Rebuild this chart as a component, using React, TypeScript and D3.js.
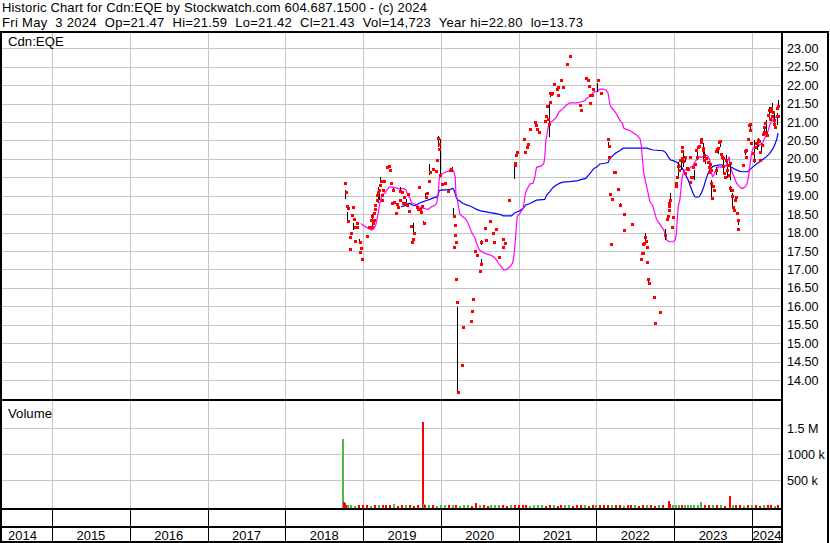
import React from 'react';
import * as d3 from 'd3';

// ---------- text ----------
const header1 = 'Historic Chart for Cdn:EQE by Stockwatch.com 604.687.1500 - (c) 2024';
const header2 = 'Fri May  3 2024  Op=21.47  Hi=21.59  Lo=21.42  Cl=21.43  Vol=14,723  Year hi=22.80  lo=13.73';
const symbolLabel = 'Cdn:EQE';
const volumeLabel = 'Volume';

// ---------- axes ----------
const years = [2014, 2015, 2016, 2017, 2018, 2019, 2020, 2021, 2022, 2023, 2024];
const priceTicks = [14, 14.5, 15, 15.5, 16, 16.5, 17, 17.5, 18, 18.5, 19, 19.5, 20, 20.5, 21, 21.5, 22, 22.5, 23];
const volTicks = [500000, 1000000, 1500000];
const volTickLabels = ['500 k', '1000 k', '1.5 M'];

// ---------- data (t = decimal year) ----------
// daily closes [t, price]
const closes: [number, number][] = [
  [2018.766, 19.35], [2018.779, 19.11], [2018.787, 18.72], [2018.8, 18.67], [2018.809, 18.3],
  [2018.826, 17.56], [2018.83, 17.87], [2018.843, 18.0], [2018.856, 18.48], [2018.864, 18.7],
  [2018.882, 18.36], [2018.89, 17.78], [2018.894, 18.16], [2018.916, 18.26], [2018.924, 18.16],
  [2018.959, 17.73], [2018.963, 17.48], [2018.967, 17.57], [2018.989, 17.29], [2019.044, 17.91],
  [2019.074, 18.16], [2019.096, 18.34], [2019.109, 18.45], [2019.117, 18.16], [2019.121, 18.25],
  [2019.134, 18.34], [2019.139, 18.52], [2019.147, 18.63], [2019.156, 18.74], [2019.173, 18.88],
  [2019.177, 19.02], [2019.186, 19.11], [2019.199, 19.15], [2019.216, 19.29], [2019.224, 19.4],
  [2019.237, 19.02], [2019.246, 18.88], [2019.259, 19.15], [2019.271, 19.41], [2019.31, 19.79],
  [2019.327, 19.81], [2019.34, 19.7], [2019.353, 19.34], [2019.366, 18.79], [2019.383, 19.15],
  [2019.396, 18.84], [2019.421, 18.52], [2019.43, 18.77], [2019.447, 18.7], [2019.468, 18.88],
  [2019.477, 19.14], [2019.494, 19.09], [2019.507, 18.81], [2019.524, 18.96], [2019.541, 18.79],
  [2019.558, 18.74], [2019.571, 19.05], [2019.584, 18.59], [2019.61, 18.19], [2019.627, 17.75],
  [2019.64, 17.82], [2019.657, 18.0], [2019.687, 18.7], [2019.7, 18.65], [2019.713, 19.24],
  [2019.73, 18.65], [2019.743, 18.57], [2019.756, 18.73], [2019.781, 18.25], [2019.807, 18.97],
  [2019.824, 19.08], [2019.846, 19.41], [2019.854, 19.63], [2019.893, 19.73], [2019.935, 19.68],
  [2019.944, 19.97], [2019.961, 20.57], [2019.97, 20.39], [2019.978, 20.26], [2019.995, 19.56],
  [2020.017, 19.32], [2020.051, 19.35], [2020.085, 19.14], [2020.111, 19.7], [2020.133, 19.72],
  [2020.167, 18.45], [2020.17, 17.62], [2020.18, 18.21], [2020.184, 17.93], [2020.188, 16.74],
  [2020.193, 17.75], [2020.205, 16.12], [2020.214, 13.68], [2020.27, 14.41], [2020.283, 15.45],
  [2020.381, 15.61], [2020.398, 15.88], [2020.411, 16.19], [2020.445, 17.51], [2020.463, 17.38],
  [2020.501, 16.97], [2020.51, 17.15], [2020.522, 17.73], [2020.561, 18.13], [2020.574, 17.8],
  [2020.63, 18.31], [2020.668, 17.99], [2020.681, 17.75], [2020.715, 18.1], [2020.75, 17.35],
  [2020.797, 17.62], [2020.801, 17.83], [2020.818, 17.71], [2020.874, 18.88], [2020.951, 19.83],
  [2020.959, 19.9], [2020.972, 20.1], [2020.985, 20.19], [2021.066, 20.55], [2021.075, 20.19],
  [2021.101, 20.33], [2021.114, 20.4], [2021.144, 20.82], [2021.204, 21.01], [2021.221, 20.92],
  [2021.238, 20.8], [2021.255, 20.73], [2021.336, 21.04], [2021.349, 21.16], [2021.362, 21.43],
  [2021.371, 21.07], [2021.384, 20.94], [2021.401, 21.55], [2021.409, 21.8], [2021.422, 21.76],
  [2021.435, 21.8], [2021.448, 22.02], [2021.495, 21.9], [2021.508, 21.73], [2021.512, 21.96],
  [2021.538, 22.14], [2021.564, 21.96], [2021.619, 22.57], [2021.658, 22.8], [2021.786, 21.46],
  [2021.795, 21.33], [2021.872, 22.19], [2021.889, 22.14], [2021.898, 21.98], [2021.915, 21.73],
  [2021.923, 21.52], [2021.949, 21.73], [2021.962, 21.89], [2022.026, 22.14], [2022.056, 21.8],
  [2022.155, 20.54], [2022.16, 20.35], [2022.163, 20.06], [2022.18, 19.05], [2022.185, 17.69],
  [2022.198, 18.91], [2022.223, 19.64], [2022.245, 19.64], [2022.283, 19.19], [2022.309, 18.76],
  [2022.352, 18.5], [2022.356, 18.07], [2022.455, 18.24], [2022.57, 17.28], [2022.587, 17.45],
  [2022.6, 17.69], [2022.604, 17.45], [2022.617, 17.71], [2022.63, 17.89], [2022.634, 17.78],
  [2022.647, 17.62], [2022.65, 17.21], [2022.664, 16.74], [2022.673, 16.64], [2022.734, 16.26],
  [2022.759, 15.55], [2022.815, 15.85], [2022.879, 17.93], [2022.901, 18.36], [2022.926, 18.45],
  [2022.93, 18.72], [2022.935, 18.81], [2022.939, 18.61], [2022.952, 18.88], [2022.969, 18.16],
  [2022.978, 18.43], [2023.021, 19.25], [2023.029, 19.35], [2023.038, 19.5], [2023.046, 19.81],
  [2023.055, 19.7], [2023.072, 19.97], [2023.094, 20.31], [2023.098, 20.22], [2023.106, 20.01],
  [2023.119, 19.95], [2023.136, 20.06], [2023.145, 19.61], [2023.158, 19.76], [2023.179, 19.72],
  [2023.201, 20.06], [2023.209, 19.38], [2023.222, 19.52], [2023.235, 19.52], [2023.243, 19.79],
  [2023.265, 19.86], [2023.286, 20.24], [2023.295, 20.06], [2023.308, 20.33], [2023.321, 20.35],
  [2023.338, 20.53], [2023.346, 20.46], [2023.364, 20.24], [2023.372, 20.29], [2023.385, 20.1],
  [2023.389, 19.97], [2023.415, 20.01], [2023.436, 19.92], [2023.449, 19.79], [2023.453, 19.63],
  [2023.458, 19.86], [2023.471, 19.7], [2023.479, 19.35], [2023.484, 18.93], [2023.501, 19.25],
  [2023.509, 19.15], [2023.535, 19.7], [2023.543, 20.22], [2023.552, 20.26], [2023.569, 20.29],
  [2023.578, 20.47], [2023.586, 20.49], [2023.603, 20.13], [2023.612, 20.06], [2023.621, 20.01],
  [2023.629, 19.81], [2023.646, 19.61], [2023.655, 19.52], [2023.663, 19.97], [2023.681, 19.7],
  [2023.693, 19.83], [2023.706, 19.56], [2023.715, 19.9], [2023.723, 19.2], [2023.741, 19.15],
  [2023.749, 18.99], [2023.758, 18.7], [2023.771, 18.61], [2023.779, 18.88], [2023.788, 18.96],
  [2023.801, 18.52], [2023.818, 18.34], [2023.826, 18.1], [2023.878, 19.83], [2023.912, 20.22],
  [2023.92, 20.06], [2023.929, 20.24], [2023.955, 20.55], [2023.963, 20.91], [2023.972, 20.78],
  [2023.98, 20.95], [2023.985, 20.42], [2024.015, 20.15], [2024.023, 19.97], [2024.04, 20.31],
  [2024.049, 20.44], [2024.066, 20.42], [2024.079, 20.51], [2024.092, 20.48], [2024.1, 20.19],
  [2024.109, 19.97], [2024.126, 20.38], [2024.143, 20.67], [2024.152, 20.74], [2024.16, 20.87],
  [2024.169, 20.96], [2024.186, 20.69], [2024.195, 20.65], [2024.208, 21.19], [2024.216, 21.33],
  [2024.229, 21.07], [2024.242, 21.31], [2024.25, 21.37], [2024.263, 21.15], [2024.272, 21.26],
  [2024.28, 21.05], [2024.289, 20.94], [2024.297, 20.87], [2024.315, 21.16], [2024.323, 21.37],
  [2024.33, 21.15], [2024.336, 21.43],
];

// intraday ranges [t, high, low]
const ranges: [number, number, number][] = [
  [2018.77, 19.15, 18.9], [2018.787, 18.57, 18.3], [2018.873, 18.27, 18.07], [2018.95, 17.82, 17.69],
  [2019.109, 18.5, 18.16], [2019.186, 19.24, 18.79], [2019.199, 19.08, 18.88], [2019.216, 19.52, 19.35],
  [2019.379, 19.2, 19.11], [2019.473, 19.23, 19.11], [2019.55, 18.92, 18.74], [2019.644, 18.27, 17.98],
  [2019.773, 18.3, 18.21], [2019.799, 19.06, 18.93], [2019.846, 19.86, 19.56], [2019.957, 20.62, 20.31],
  [2019.987, 20.53, 19.56], [2020.141, 19.77, 19.63], [2020.158, 18.67, 18.45], [2020.201, 15.99, 13.68],
  [2020.203, 15.99, 14.6], [2020.51, 17.27, 17.13], [2020.522, 17.8, 17.66], [2020.942, 19.9, 19.45],
  [2021.392, 21.55, 20.6], [2021.409, 21.82, 21.67], [2021.444, 22.05, 21.98], [2022.009, 22.05, 21.82],
  [2022.15, 20.47, 20.33], [2022.236, 19.67, 19.61], [2022.309, 18.79, 18.72], [2022.626, 17.99, 17.66],
  [2022.669, 16.78, 16.62], [2022.884, 18.09, 17.8], [2022.952, 19.06, 18.88], [2023.051, 19.92, 19.52],
  [2023.081, 20.06, 19.7], [2023.115, 20.15, 19.79], [2023.136, 20.06, 19.92], [2023.252, 19.7, 19.43],
  [2023.295, 20.22, 19.97], [2023.364, 20.42, 19.97], [2023.381, 20.33, 20.01], [2023.398, 19.97, 19.86],
  [2023.475, 19.43, 18.88], [2023.535, 19.79, 19.56], [2023.569, 20.26, 20.13], [2023.586, 20.48, 20.31],
  [2023.629, 19.97, 19.61], [2023.663, 20.1, 19.88], [2023.681, 19.88, 19.47], [2023.715, 19.88, 19.43],
  [2023.723, 19.25, 19.11], [2023.741, 19.06, 18.66], [2023.826, 18.36, 18.21], [2023.912, 20.28, 20.1],
  [2023.972, 20.95, 20.74], [2024.032, 20.51, 19.88], [2024.058, 20.47, 20.24], [2024.083, 20.56, 20.31],
  [2024.118, 20.42, 20.13], [2024.152, 20.89, 20.65], [2024.186, 21.05, 20.67], [2024.22, 21.42, 21.07],
  [2024.255, 21.52, 21.24], [2024.289, 21.28, 20.87], [2024.315, 21.24, 20.92], [2024.332, 21.6, 21.37],
];

// short moving average (magenta) [t, value]
const maShort: [number, number][] = [
  [2018.971, 18.25], [2019.001, 18.19], [2019.044, 18.14], [2019.109, 18.07], [2019.139, 18.11],
  [2019.164, 18.21], [2019.181, 18.39], [2019.194, 18.52], [2019.207, 18.7], [2019.224, 18.88],
  [2019.25, 19.05], [2019.28, 19.06], [2019.301, 19.14], [2019.336, 19.23], [2019.387, 19.23],
  [2019.451, 19.19], [2019.524, 19.19], [2019.55, 19.16], [2019.58, 18.99], [2019.601, 18.93],
  [2019.623, 18.81], [2019.653, 18.78], [2019.687, 18.74], [2019.721, 18.7], [2019.764, 18.66],
  [2019.837, 18.63], [2019.88, 18.7], [2019.923, 18.74], [2019.944, 18.79], [2019.953, 18.88],
  [2019.965, 19.06], [2019.978, 19.43], [2019.995, 19.56], [2020.03, 19.61], [2020.073, 19.65],
  [2020.115, 19.68], [2020.141, 19.73], [2020.167, 19.65], [2020.184, 19.52], [2020.193, 19.06],
  [2020.21, 18.9], [2020.227, 18.7], [2020.244, 18.5], [2020.27, 18.45], [2020.308, 18.39],
  [2020.338, 18.3], [2020.364, 18.18], [2020.39, 18.03], [2020.407, 17.96], [2020.441, 17.84],
  [2020.458, 17.71], [2020.492, 17.54], [2020.522, 17.48], [2020.587, 17.42], [2020.63, 17.39],
  [2020.672, 17.35], [2020.707, 17.28], [2020.737, 17.18], [2020.779, 17.07], [2020.809, 16.98],
  [2020.844, 17.0], [2020.887, 17.07], [2020.921, 17.17], [2020.938, 17.35], [2020.951, 17.62],
  [2020.964, 17.98], [2020.981, 18.43], [2021.015, 18.52], [2021.058, 18.66], [2021.079, 18.97],
  [2021.101, 19.15], [2021.144, 19.32], [2021.186, 19.34], [2021.208, 19.52], [2021.229, 19.77],
  [2021.294, 19.81], [2021.324, 19.88], [2021.336, 20.06], [2021.349, 20.51], [2021.358, 20.58],
  [2021.379, 20.86], [2021.401, 20.98], [2021.444, 21.04], [2021.486, 21.13], [2021.521, 21.28],
  [2021.551, 21.33], [2021.572, 21.37], [2021.615, 21.46], [2021.658, 21.52], [2021.743, 21.52],
  [2021.808, 21.55], [2021.851, 21.58], [2021.872, 21.64], [2021.915, 21.69], [2021.966, 21.82],
  [2022.0, 21.82], [2022.043, 21.89], [2022.086, 21.89], [2022.12, 21.87], [2022.15, 21.78],
  [2022.163, 21.6], [2022.18, 21.42], [2022.215, 21.34], [2022.257, 21.22], [2022.3, 21.05],
  [2022.335, 20.96], [2022.352, 20.83], [2022.386, 20.8], [2022.429, 20.77], [2022.472, 20.71],
  [2022.515, 20.65], [2022.558, 20.56], [2022.579, 20.33], [2022.592, 19.97], [2022.609, 19.61],
  [2022.635, 19.34], [2022.665, 19.06], [2022.687, 18.84], [2022.721, 18.75], [2022.751, 18.52],
  [2022.772, 18.36], [2022.807, 18.25], [2022.836, 18.16], [2022.866, 18.07], [2022.892, 17.89],
  [2022.901, 17.8], [2022.935, 17.75], [2022.986, 17.75], [2023.012, 17.8], [2023.029, 17.98],
  [2023.038, 18.34], [2023.051, 18.7], [2023.072, 18.88], [2023.081, 19.06], [2023.098, 19.43],
  [2023.115, 19.61], [2023.136, 19.7], [2023.179, 19.7], [2023.209, 19.77], [2023.243, 19.81],
  [2023.265, 19.92], [2023.295, 19.99], [2023.321, 20.06], [2023.351, 20.04], [2023.393, 20.08],
  [2023.415, 20.1], [2023.436, 20.06], [2023.458, 19.97], [2023.466, 19.79], [2023.479, 19.61],
  [2023.492, 19.52], [2023.509, 19.56], [2023.535, 19.7], [2023.565, 19.79], [2023.595, 19.77],
  [2023.629, 19.81], [2023.672, 19.81], [2023.693, 19.97], [2023.706, 20.06], [2023.723, 19.79],
  [2023.749, 19.61], [2023.779, 19.47], [2023.801, 19.34], [2023.835, 19.26], [2023.865, 19.2],
  [2023.886, 19.2], [2023.92, 19.26], [2023.938, 19.34], [2023.955, 19.52], [2023.972, 19.79],
  [2023.985, 20.01], [2023.998, 20.19], [2024.015, 20.29], [2024.036, 20.33], [2024.079, 20.33],
  [2024.1, 20.38], [2024.135, 20.42], [2024.152, 20.51], [2024.178, 20.62], [2024.203, 20.74],
  [2024.229, 20.92], [2024.25, 21.01], [2024.272, 21.07], [2024.293, 21.13], [2024.315, 21.14],
  [2024.336, 21.13],
];

// long moving average (blue) [t, value]
const maLong: [number, number][] = [
  [2019.486, 18.7], [2019.537, 18.73], [2019.567, 18.78], [2019.601, 18.79], [2019.636, 18.74],
  [2019.678, 18.73], [2019.708, 18.78], [2019.738, 18.81], [2019.773, 18.84], [2019.815, 18.87],
  [2019.858, 18.9], [2019.901, 18.94], [2019.944, 18.96], [2019.965, 19.02], [2019.978, 19.14],
  [2020.03, 19.16], [2020.094, 19.16], [2020.124, 19.17], [2020.15, 19.2], [2020.167, 19.16],
  [2020.184, 19.06], [2020.201, 18.93], [2020.222, 18.88], [2020.252, 18.84], [2020.287, 18.79],
  [2020.33, 18.75], [2020.372, 18.72], [2020.415, 18.68], [2020.458, 18.63], [2020.51, 18.59],
  [2020.565, 18.57], [2020.63, 18.54], [2020.694, 18.52], [2020.737, 18.5], [2020.779, 18.48],
  [2020.801, 18.45], [2020.908, 18.45], [2020.951, 18.54], [2021.015, 18.59], [2021.058, 18.66],
  [2021.092, 18.75], [2021.144, 18.79], [2021.229, 18.88], [2021.336, 18.9], [2021.358, 19.01],
  [2021.401, 19.11], [2021.444, 19.23], [2021.486, 19.29], [2021.529, 19.34], [2021.572, 19.37],
  [2021.658, 19.38], [2021.743, 19.4], [2021.786, 19.43], [2021.863, 19.47], [2021.898, 19.56],
  [2021.936, 19.65], [2021.966, 19.74], [2022.0, 19.77], [2022.043, 19.86], [2022.108, 19.88],
  [2022.15, 19.9], [2022.172, 20.01], [2022.215, 20.1], [2022.257, 20.17], [2022.3, 20.22],
  [2022.343, 20.29], [2022.472, 20.29], [2022.579, 20.29], [2022.644, 20.29], [2022.729, 20.24],
  [2022.858, 20.22], [2022.892, 20.17], [2022.922, 20.06], [2022.952, 19.97], [2022.986, 19.95],
  [2023.021, 19.92], [2023.051, 19.88], [2023.072, 19.81], [2023.106, 19.74], [2023.136, 19.61],
  [2023.179, 19.43], [2023.209, 19.25], [2023.243, 19.06], [2023.265, 18.97], [2023.286, 18.96],
  [2023.321, 18.97], [2023.351, 19.08], [2023.381, 19.25], [2023.406, 19.43], [2023.436, 19.61],
  [2023.458, 19.7], [2023.492, 19.79], [2023.522, 19.81], [2023.565, 19.83], [2023.608, 19.84],
  [2023.651, 19.82], [2023.681, 19.83], [2023.706, 19.81], [2023.736, 19.77], [2023.766, 19.74],
  [2023.801, 19.7], [2023.843, 19.66], [2023.886, 19.65], [2023.938, 19.65], [2023.972, 19.7],
  [2024.015, 19.79], [2024.058, 19.86], [2024.1, 19.92], [2024.143, 19.99], [2024.186, 20.06],
  [2024.229, 20.15], [2024.272, 20.29], [2024.293, 20.38], [2024.315, 20.51], [2024.336, 20.7],
];

// volume [t, shares (thousands), up-day 1 / down-day 0]
const volumes: [number, number, number][] = [
  [2018.745, 1290, 1], [2018.76, 75, 0], [2018.772, 55, 0], [2018.79, 30, 0], [2018.81, 18, 1],
  [2018.85, 20, 1], [2018.9, 15, 1], [2018.95, 22, 0], [2019.0, 18, 0], [2019.05, 25, 0],
  [2019.1, 15, 1], [2019.15, 30, 0], [2019.2, 20, 1], [2019.25, 18, 0], [2019.3, 25, 0],
  [2019.35, 20, 0], [2019.4, 35, 1], [2019.45, 15, 0], [2019.5, 22, 0], [2019.55, 18, 1],
  [2019.6, 20, 0], [2019.65, 15, 0], [2019.7, 25, 0], [2019.765, 1630, 0], [2019.785, 45, 1],
  [2019.8, 20, 0], [2019.85, 18, 1], [2019.9, 25, 0], [2019.95, 15, 1], [2020.0, 20, 1],
  [2020.05, 30, 1], [2020.1, 18, 0], [2020.15, 22, 1], [2020.2, 20, 0], [2020.25, 15, 1],
  [2020.3, 18, 1], [2020.35, 20, 1], [2020.4, 15, 0], [2020.45, 60, 0], [2020.5, 25, 1],
  [2020.55, 20, 0], [2020.6, 15, 0], [2020.65, 20, 1], [2020.7, 18, 1], [2020.75, 25, 1],
  [2020.8, 20, 0], [2020.85, 15, 0], [2020.9, 22, 1], [2020.95, 20, 0], [2021.0, 18, 0],
  [2021.05, 25, 0], [2021.1, 20, 0], [2021.15, 15, 1], [2021.2, 22, 1], [2021.25, 18, 1],
  [2021.3, 20, 1], [2021.35, 15, 0], [2021.4, 25, 0], [2021.45, 20, 1], [2021.5, 15, 0],
  [2021.55, 18, 0], [2021.6, 22, 1], [2021.65, 20, 1], [2021.7, 15, 0], [2021.75, 22, 0],
  [2021.8, 18, 0], [2021.85, 20, 1], [2021.9, 15, 0], [2021.95, 25, 0], [2022.0, 20, 1],
  [2022.05, 18, 0], [2022.1, 22, 0], [2022.15, 20, 0], [2022.2, 25, 1], [2022.25, 18, 0],
  [2022.3, 20, 0], [2022.35, 15, 1], [2022.4, 22, 0], [2022.45, 20, 0], [2022.5, 18, 1],
  [2022.55, 15, 0], [2022.6, 20, 0], [2022.65, 25, 1], [2022.7, 18, 0], [2022.75, 15, 0],
  [2022.8, 20, 1], [2022.85, 18, 0], [2022.93, 110, 0], [2022.95, 40, 0], [2022.98, 25, 1],
  [2023.02, 20, 1], [2023.06, 30, 1], [2023.1, 18, 0], [2023.14, 22, 1], [2023.18, 20, 1],
  [2023.22, 25, 1], [2023.26, 18, 1], [2023.3, 20, 1], [2023.35, 85, 1], [2023.4, 22, 0],
  [2023.45, 18, 0], [2023.5, 20, 1], [2023.55, 25, 0], [2023.6, 18, 1], [2023.65, 15, 0],
  [2023.715, 190, 0], [2023.75, 22, 1], [2023.8, 18, 0], [2023.85, 20, 0], [2023.9, 15, 1],
  [2023.95, 22, 0], [2024.0, 18, 1], [2024.05, 20, 0], [2024.1, 15, 0], [2024.15, 22, 1],
  [2024.2, 18, 0], [2024.25, 20, 0], [2024.3, 15, 1], [2024.33, 18, 0],
];

// ---------- layout ----------
const W = 830;
const H = 543;
const plotLeft = 1;
const plotRight = 782;
const frameTop = 32;
const priceBottom = 400;
const volBottom = 509;
const midBottom = 527;
const frameBottom = 542;
const FONT = '"Liberation Sans", Arial, sans-serif';
const GRID = '#c6c6c6';

export default function App() {
  const x = d3.scaleLinear().domain([2015, 2024]).range([52, 752]);
  const yP = d3.scaleLinear().domain([14, 23]).range([379.95, 48.3]);
  const yV = d3.scaleLinear().domain([0, 1500000]).range([506.3, 428.3]);

  const line = d3
    .line<[number, number]>()
    .x((d) => x(d[0]))
    .y((d) => yP(d[1]));

  const yearBounds = years.slice(1).map((yr) => Math.round(x(yr)) + 0.5);

  return (
    <svg
      width={W}
      height={H}
      viewBox={`0 0 ${W} ${H}`}
      style={{ position: 'absolute', left: 0, top: 0, background: '#fff', fontFamily: FONT }}
    >
      <rect x={0} y={0} width={W} height={H} fill="#fff" />
      {/* header */}
      <text x={2} y={12} fontSize={13} fill="#000" textLength={425} lengthAdjust="spacing" style={{ whiteSpace: 'pre' }}>
        {header1}
      </text>
      <text x={2} y={26.5} fontSize={13} fill="#000" textLength={581} lengthAdjust="spacing" style={{ whiteSpace: 'pre' }}>
        {header2}
      </text>

      {/* grids */}
      <g shapeRendering="crispEdges">
        {priceTicks.map((p) => (
          <line key={'hp' + p} x1={plotLeft} x2={plotRight} y1={Math.round(yP(p)) + 0.5} y2={Math.round(yP(p)) + 0.5} stroke={GRID} />
        ))}
        {yearBounds.map((bx, i) => (
          <line key={'vp' + i} x1={bx} x2={bx} y1={frameTop} y2={priceBottom} stroke={GRID} />
        ))}
        {volTicks.map((v) => (
          <line key={'hv' + v} x1={plotLeft} x2={plotRight} y1={Math.round(yV(v)) + 0.5} y2={Math.round(yV(v)) + 0.5} stroke={GRID} />
        ))}
        {yearBounds.map((bx, i) => (
          <line key={'vv' + i} x1={bx} x2={bx} y1={priceBottom} y2={volBottom} stroke={GRID} />
        ))}
        {yearBounds.map((bx, i) => (
          <line key={'vb' + i} x1={bx} x2={bx} y1={volBottom} y2={frameBottom} stroke="#000" />
        ))}
      </g>

      {/* panel labels */}
      <text x={8} y={46} fontSize={13.2} fill="#000">{symbolLabel}</text>
      <text x={8} y={418} fontSize={13.2} fill="#000">{volumeLabel}</text>

      {/* moving averages */}
      <path d={line(maLong) || ''} fill="none" stroke="#0000ff" strokeWidth={1.2} />
      <path d={line(maShort) || ''} fill="none" stroke="#ff00ff" strokeWidth={1.2} />

      {/* high-low bars */}
      <g shapeRendering="crispEdges">
        {ranges.map((r, i) => (
          <line
            key={'r' + i}
            x1={Math.round(x(r[0])) + 0.5}
            x2={Math.round(x(r[0])) + 0.5}
            y1={yP(r[1])}
            y2={yP(r[2])}
            stroke="#000"
            strokeWidth={1}
          />
        ))}
      </g>

      {/* closes */}
      <g shapeRendering="crispEdges">
        {closes.map((c, i) => (
          <rect key={'c' + i} x={Math.round(x(c[0])) - 1} y={Math.round(yP(c[1])) - 1} width={2.6} height={2.6} fill="#ff0000" />
        ))}
      </g>

      {/* volume bars */}
      <g shapeRendering="crispEdges">
        {volumes.map((v, i) => {
          const top = yV(v[1] * 1000);
          return (
            <rect
              key={'v' + i}
              x={Math.round(x(v[0])) - 1}
              y={top}
              width={2}
              height={volBottom - 1 - top}
              fill={v[2] ? '#4cb848' : '#ff0000'}
            />
          );
        })}
      </g>

      {/* price axis labels */}
      {priceTicks.map((p) => (
        <text key={'tp' + p} x={787} y={yP(p) + 4.6} fontSize={12.6} fill="#000">
          {d3.format('.2f')(p)}
        </text>
      ))}
      {volTicks.map((v, i) => (
        <text key={'tv' + v} x={787} y={yV(v) + 4.6} fontSize={12.6} fill="#000">
          {volTickLabels[i]}
        </text>
      ))}

      {/* year labels */}
      {years.map((yr) => {
        const l = Math.max(plotLeft, x(yr));
        const r = Math.min(plotRight, x(yr + 1));
        if (x(yr) < 0) {
          return (
            <text key={'y' + yr} x={8} y={540} fontSize={13} fill="#000">
              {yr}
            </text>
          );
        }
        return (
          <text key={'y' + yr} x={(l + r) / 2} y={540} fontSize={13} textAnchor="middle" fill="#000">
            {yr}
          </text>
        );
      })}

      {/* frame */}
      <g shapeRendering="crispEdges" stroke="#000" strokeWidth={2} fill="none">
        <line x1={0} x2={W - 1} y1={frameTop} y2={frameTop} />
        <line x1={1} x2={1} y1={frameTop} y2={frameBottom + 1} />
        <line x1={plotRight} x2={plotRight} y1={frameTop} y2={frameBottom + 1} />
        <line x1={W - 2} x2={W - 2} y1={frameTop} y2={frameBottom + 1} />
        <line x1={0} x2={plotRight} y1={priceBottom} y2={priceBottom} />
        <line x1={0} x2={plotRight} y1={volBottom} y2={volBottom} />
        <line x1={0} x2={plotRight} y1={midBottom} y2={midBottom} />
        <line x1={0} x2={plotRight} y1={frameBottom} y2={frameBottom} />
      </g>
    </svg>
  );
}
